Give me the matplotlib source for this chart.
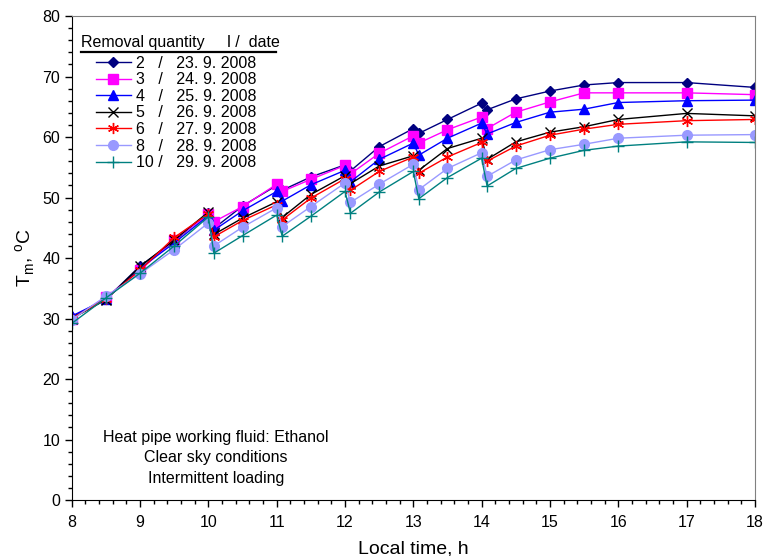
import matplotlib
matplotlib.use('Agg')
import matplotlib.pyplot as plt
from matplotlib.lines import Line2D
from matplotlib.ticker import MultipleLocator

plt.rcParams['font.family'] = ['Liberation Sans', 'DejaVu Sans']

# Local time (h); the extra points just after each full hour are the readings
# taken right after water was withdrawn from the tank
time_h = [8, 8.5, 9, 9.5, 10, 10.08, 10.5, 11, 11.08, 11.5, 12, 12.08, 12.5,
          13, 13.08, 13.5, 14, 14.08, 14.5, 15, 15.5, 16, 17, 18]

tm_2 = [30.2, 33.2, 38.7, 42.8, 47.5, 44.9, 48.6, 52.0, 51.2, 53.4, 55.4, 54.4,
        58.4, 61.4, 60.6, 62.9, 65.6, 64.5, 66.3, 67.6, 68.6, 69.0, 69.0, 68.2]
tm_3 = [30.0, 33.5, 38.0, 43.0, 47.2, 46.0, 48.5, 52.2, 51.0, 53.0, 55.3, 53.9,
        57.3, 60.2, 59.0, 61.2, 63.3, 61.4, 64.1, 65.8, 67.3, 67.3, 67.3, 67.0]
tm_4 = [30.4, 33.2, 38.3, 42.5, 47.0, 44.6, 47.8, 51.0, 49.4, 52.1, 54.5, 52.6,
        56.3, 59.0, 57.0, 59.8, 62.3, 60.5, 62.4, 64.1, 64.6, 65.7, 66.0, 66.1]
tm_5 = [30.0, 33.1, 38.6, 43.0, 47.6, 43.9, 46.6, 49.3, 46.7, 50.5, 53.6, 52.3,
        55.2, 56.9, 54.5, 58.1, 59.8, 56.3, 59.2, 60.8, 61.7, 62.9, 63.9, 63.5]
tm_6 = [30.0, 33.3, 38.0, 43.4, 47.3, 43.5, 46.2, 48.8, 46.3, 49.9, 53.1, 51.2,
        54.3, 56.7, 54.0, 56.7, 59.1, 56.0, 58.5, 60.3, 61.3, 62.1, 62.7, 62.9]
tm_8 = [29.8, 33.7, 37.4, 41.4, 45.8, 42.0, 45.1, 48.3, 45.2, 48.5, 52.4, 49.2,
        52.2, 55.5, 51.3, 54.8, 57.4, 53.5, 56.2, 57.9, 58.8, 59.8, 60.3, 60.4]
tm_10 = [29.2, 33.4, 37.5, 42.0, 46.8, 40.8, 43.7, 47.1, 43.6, 46.9, 51.0, 47.4,
         50.9, 54.3, 49.8, 53.3, 56.5, 51.9, 54.8, 56.5, 57.8, 58.5, 59.2, 59.1]

labels = ['2   /   23. 9. 2008',
          '3   /   24. 9. 2008',
          '4   /   25. 9. 2008',
          '5   /   26. 9. 2008',
          '6   /   27. 9. 2008',
          '8   /   28. 9. 2008',
          '10 /   29. 9. 2008']

series = [tm_2, tm_3, tm_4, tm_5, tm_6, tm_8, tm_10]
colors = ['#000080', '#FF00FF', '#0000FF', '#000000', '#FF0000', '#9999FF', '#008080']
markers = ['D', 's', '^', 'x', (6, 2, 0), 'o', '+']
msizes = [5, 6.5, 7, 7, 8, 7, 8]

fig = plt.figure(figsize=(7.64, 5.56), dpi=100)
ax = fig.add_axes([0.094, 0.1007, 0.894, 0.8705])

for y, c, m, ms, lab in zip(series, colors, markers, msizes, labels):
    ax.plot(time_h, y, color=c, marker=m, markersize=ms, linewidth=1.0,
            markeredgewidth=1.0, markeredgecolor=c, markerfacecolor=c, label=lab)

ax.set_xlim(8, 18)
ax.set_ylim(0, 80)
ax.xaxis.set_major_locator(MultipleLocator(1))
ax.xaxis.set_minor_locator(MultipleLocator(0.2))
ax.yaxis.set_major_locator(MultipleLocator(10))
ax.yaxis.set_minor_locator(MultipleLocator(2))
ax.tick_params(which='major', direction='out', length=5, width=1, labelsize=11.5)
ax.tick_params(axis='x', which='major', pad=6)
ax.tick_params(which='minor', direction='out', length=3, width=1)
for side in ['top', 'right']:
    ax.spines[side].set_color('#808080')

ax.set_xlabel('Local time, h', fontsize=14, labelpad=7)
ax.set_ylabel(r'T$_\mathregular{m}$, $^\mathregular{o}$C', fontsize=14, labelpad=4)

# legend with an underlined heading
ax.text(0.014, 0.936, 'Removal quantity     l /  date', transform=ax.transAxes,
        fontsize=11.5, ha='left', va='baseline')
ax.add_line(Line2D([0.014, 0.299], [0.925, 0.925], transform=ax.transAxes,
                   color='black', linewidth=1.6))
ax.legend(loc='upper left', bbox_to_anchor=(0.035, 0.918), frameon=False,
          fontsize=11.5, handlelength=2.2, handletextpad=0.3,
          labelspacing=0.1, borderaxespad=0, borderpad=0)

ax.text(0.211, 0.087, 'Heat pipe working fluid: Ethanol\nClear sky conditions\nIntermittent loading',
        transform=ax.transAxes, ha='center', va='center', fontsize=11.5,
        linespacing=1.45, multialignment='center')

fig.savefig('out.png', dpi=100)
